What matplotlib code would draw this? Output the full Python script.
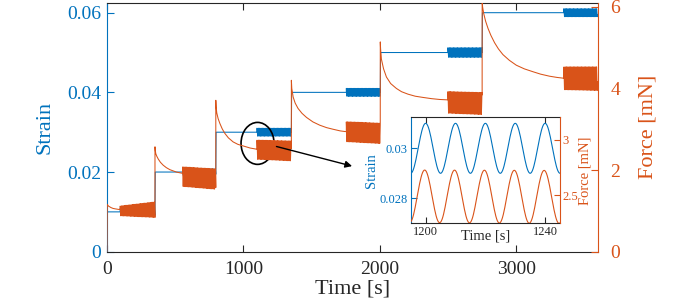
import numpy as np
import matplotlib
matplotlib.use('Agg')
import matplotlib.pyplot as plt
from matplotlib.patches import Ellipse
from matplotlib.ticker import FuncFormatter

plt.rcParams['font.family'] = ['Liberation Serif', 'DejaVu Serif']

# values
step_time = [0, 352, 798, 1352, 2004, 2751]
end_time = 3597
strain_level = [0.01, 0.02, 0.03, 0.04, 0.05, 0.06]
osc_start = [97, 554, 1100, 1755, 2500, 3350]
strain_amp = [0.0009, 0.0008, 0.001, 0.001, 0.0012, 0.001]
osc_period = 10.0
phase_lead = 0.2

# force relaxation after each step (time [s], force [mN])
relax_t = [
    [0, 2, 10, 20, 30, 45, 60, 80, 97],
    [352, 354, 358, 365, 376, 392, 412, 435, 461, 510, 554],
    [798, 800, 805, 815, 828, 845, 864, 890, 925, 960, 999, 1050, 1100],
    [1352, 1355, 1365, 1380, 1401, 1430, 1463, 1510, 1560, 1610, 1658, 1710, 1755],
    [2004, 2006, 2012, 2028, 2049, 2080, 2122, 2160, 2207, 2260, 2317, 2380, 2439, 2500],
    [2751, 2754, 2762, 2776, 2794, 2815, 2842, 2870, 2903, 2950, 3001, 3060, 3123, 3180,
     3245, 3300, 3350],
]
relax_f = [
    [0, 1.16, 1.12, 1.10, 1.08, 1.06, 1.05, 1.04, 1.03],
    [2.57, 2.48, 2.40, 2.34, 2.27, 2.19, 2.12, 2.06, 2.01, 1.95, 1.92],
    [3.71, 3.55, 3.40, 3.26, 3.14, 3.01, 2.90, 2.79, 2.69, 2.63, 2.59, 2.54, 2.51],
    [4.20, 4.00, 3.79, 3.64, 3.51, 3.39, 3.29, 3.18, 3.10, 3.04, 3.00, 2.96, 2.94],
    [5.14, 4.98, 4.72, 4.48, 4.28, 4.12, 4.00, 3.92, 3.86, 3.81, 3.78, 3.75, 3.73, 3.72],
    [6.15, 6.00, 5.84, 5.65, 5.47, 5.30, 5.12, 4.97, 4.83, 4.69, 4.57, 4.48, 4.41, 4.35,
     4.30, 4.27, 4.25],
]
# force oscillation band during the sinusoidal part
osc_center_start = [1.00, 1.84, 2.50, 2.94, 3.66, 4.25]
osc_center_end = [1.03, 1.78, 2.47, 2.90, 3.63, 4.24]
osc_amp_start = [0.12, 0.24, 0.235, 0.245, 0.265, 0.28]
osc_amp_end = [0.19, 0.25, 0.245, 0.25, 0.27, 0.29]

blue = '#0072BD'
orange = '#D95319'
dark = '#262626'

t_s, s_s, t_f, f_f = [], [], [], []
prev = 0.0
for i in range(len(step_time)):
    t1 = step_time[i + 1] if i < len(step_time) - 1 else end_time
    t_s += [step_time[i], step_time[i] + 2, osc_start[i]]
    s_s += [prev, strain_level[i], strain_level[i]]
    tt = np.arange(osc_start[i], t1, 0.25)
    w = (tt - osc_start[i]) / (t1 - osc_start[i])
    ph = 2 * np.pi * (tt - osc_start[i]) / osc_period
    t_s += list(tt)
    s_s += list(strain_level[i] + strain_amp[i] * np.cos(ph))
    center = osc_center_start[i] + (osc_center_end[i] - osc_center_start[i]) * w
    amp = osc_amp_start[i] + (osc_amp_end[i] - osc_amp_start[i]) * w
    t_f += relax_t[i] + list(tt)
    f_f += relax_f[i] + list(center + amp * np.cos(ph + phase_lead))
    prev = strain_level[i]

fig = plt.figure(figsize=(6.92, 3.07), dpi=100)
ax = fig.add_axes([0.1546, 0.1801, 0.7095, 0.811])
ax.plot(t_s, s_s, color=blue, lw=0.75)
ax.set_xlim(0, 3600)
ax.set_ylim(0, 0.0625)
ax.set_xticks([0, 1000, 2000, 3000])
ax.set_yticks([0, 0.02, 0.04, 0.06])
ax.yaxis.set_major_formatter(FuncFormatter(lambda v, p: '%g' % v))
ax.set_xlabel('Time [s]', fontsize=16, color=dark, labelpad=1)
ax.set_ylabel('Strain', fontsize=16, color=blue, labelpad=9)
ax.tick_params(direction='in', length=5, labelsize=14, top=True)
ax.tick_params(axis='x', colors=dark, pad=7)
ax.tick_params(axis='y', colors=blue, pad=4)
ax.spines['left'].set_color(blue)
ax.spines['right'].set_visible(False)
ax.spines['top'].set_color(dark)
ax.spines['bottom'].set_color(dark)

ax2 = ax.twinx()
ax2.plot(t_f, f_f, color=orange, lw=0.75)
ax2.set_ylim(0, 6.1)
ax2.set_yticks([0, 2, 4, 6])
ax2.set_ylabel('Force [mN]', fontsize=16, color=orange, labelpad=13)
ax2.tick_params(direction='in', length=5, labelsize=14, colors=orange, pad=9)
for s in ['left', 'top', 'bottom']:
    ax2.spines[s].set_visible(False)
ax2.spines['right'].set_color(orange)

ax2.add_patch(Ellipse((1104, 2.654), width=242, height=1.028, fill=False, ec='k', lw=1.2))
ax2.annotate('', xy=(1817, 2.08), xytext=(1223, 2.595),
             arrowprops=dict(arrowstyle='-|>', color='k', lw=1.0, mutation_scale=10))

# inset: zoom on the oscillation at 3 % strain
axi = fig.add_axes([0.5935, 0.2726, 0.2158, 0.3453])
axi.plot(t_s, s_s, color=blue, lw=0.8)
axi.set_xlim(1195, 1245)
axi.set_ylim(0.027, 0.03124)
axi.set_xticks([1200, 1240])
axi.set_yticks([0.028, 0.03])
axi.yaxis.set_major_formatter(FuncFormatter(lambda v, p: '%g' % v))
axi.set_xlabel('Time [s]', fontsize=10.5, color=dark)
axi.xaxis.set_label_coords(0.5, -0.06, transform=axi.transAxes)
axi.set_ylabel('Strain', fontsize=10.5, color=blue, labelpad=1)
axi.tick_params(direction='in', length=4, labelsize=9, top=True, pad=2)
axi.tick_params(axis='x', colors=dark)
axi.tick_params(axis='y', colors=blue)
axi.spines['left'].set_color(blue)
axi.spines['right'].set_visible(False)
axi.spines['top'].set_color(dark)
axi.spines['bottom'].set_color(dark)

axi2 = axi.twinx()
axi2.plot(t_f, f_f, color=orange, lw=0.8)
axi2.set_ylim(2.243, 3.206)
axi2.set_yticks([2.5, 3])
axi2.yaxis.set_major_formatter(FuncFormatter(lambda v, p: '%g' % v))
axi2.set_ylabel('Force [mN]', fontsize=10.5, color=orange, labelpad=0)
axi2.tick_params(direction='in', length=4, labelsize=9, colors=orange, pad=2)
for s in ['left', 'top', 'bottom']:
    axi2.spines[s].set_visible(False)
axi2.spines['right'].set_color(orange)

fig.savefig('out.png', dpi=100)
